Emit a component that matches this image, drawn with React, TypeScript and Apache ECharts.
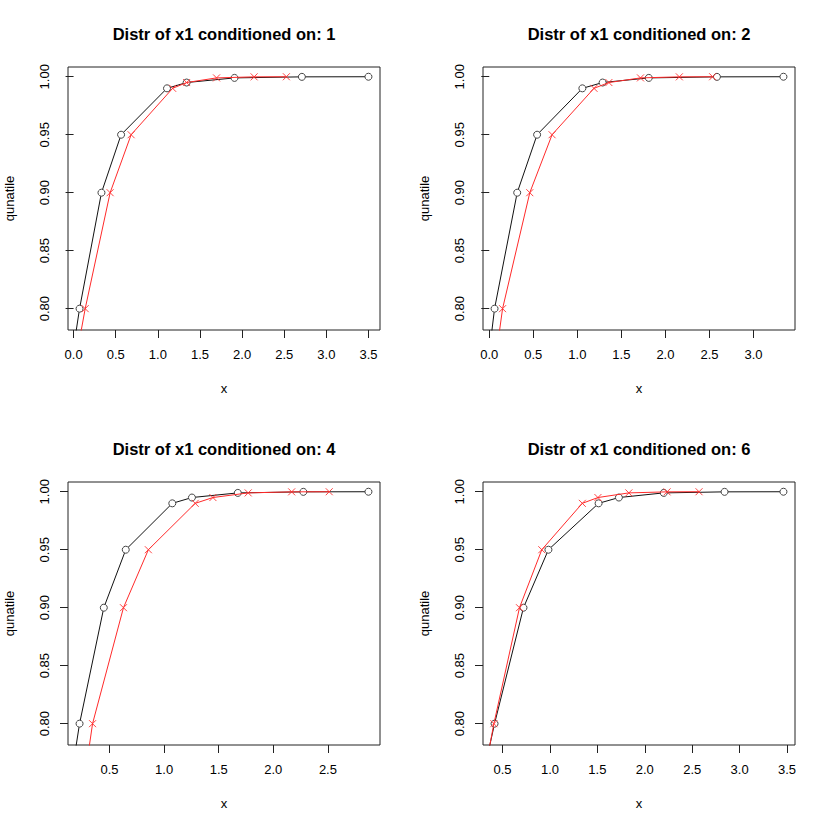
import React, { useEffect, useRef } from 'react';
import * as echarts from 'echarts';

// quantile levels (first level lies below the visible range)
const quantileLevels = [0.75, 0.8, 0.9, 0.95, 0.99, 0.995, 0.999, 0.9999, 1.0];
const conditions = ['1', '2', '4', '6'];

// x values (black circles / red crosses) per conditioning value
const blackX1 = [-0.034, 0.071, 0.331, 0.564, 1.109, 1.342, 1.91, 2.71, 3.5];
const redX1 = [0.012, 0.138, 0.434, 0.683, 1.176, 1.342, 1.697, 2.143, 2.526];
const blackX2 = [-0.02, 0.06, 0.317, 0.543, 1.057, 1.287, 1.811, 2.585, 3.34];
const redX2 = [0.06, 0.151, 0.46, 0.713, 1.189, 1.358, 1.717, 2.158, 2.536];
const blackX4 = [0.143, 0.226, 0.448, 0.649, 1.075, 1.255, 1.675, 2.275, 2.871];
const redX4 = [0.268, 0.345, 0.628, 0.856, 1.285, 1.447, 1.77, 2.168, 2.512];
const blackX6 = [0.281, 0.416, 0.721, 0.984, 1.513, 1.727, 2.2, 2.841, 3.462];
const redX6 = [0.293, 0.409, 0.679, 0.914, 1.341, 1.506, 1.832, 2.235, 2.572];

// tick labels
const yTicks = [0.8, 0.85, 0.9, 0.95, 1.0];
const xTicks1 = [0, 0.5, 1, 1.5, 2, 2.5, 3, 3.5];
const xTicks2 = [0, 0.5, 1, 1.5, 2, 2.5, 3];
const xTicks4 = [0.5, 1, 1.5, 2, 2.5];
const xTicks6 = [0.5, 1, 1.5, 2, 2.5, 3, 3.5];

const yMin = 0.7816;
const yMax = 1.0084;

const FONT = 'Liberation Sans, Arial, Helvetica, sans-serif';

function padRange(xs: number[]): [number, number] {
  const v = xs.slice(1);
  const a = Math.min(...v);
  const b = Math.max(...v);
  const e = 0.04 * (b - a);
  return [a - e, b + e];
}

const blacks = [blackX1, blackX2, blackX4, blackX6];
const reds = [redX1, redX2, redX4, redX6];
const xTicksAll = [xTicks1, xTicks2, xTicks4, xTicks6];
const lefts = [68, 483, 68, 483];
const tops = [67, 67, 482, 482];
const GW = 312;
const GH = 263;

function buildOption() {
  const grid: any[] = [];
  const xAxis: any[] = [];
  const yAxis: any[] = [];
  const series: any[] = [];
  const graphic: any[] = [];
  for (let i = 0; i < 4; i++) {
    const [xmin, xmax] = padRange(blacks[i]);
    grid.push({
      left: lefts[i],
      top: tops[i],
      width: GW,
      height: GH,
      show: true,
      borderColor: '#222',
      borderWidth: 1,
      backgroundColor: 'transparent',
    });
    xAxis.push({
      type: 'value',
      gridIndex: i,
      min: xmin,
      max: xmax,
      name: 'x',
      nameLocation: 'middle',
      nameGap: 52,
      nameTextStyle: { color: '#000', fontSize: 13, fontFamily: FONT },
      axisLine: { show: false },
      splitLine: { show: false },
      axisTick: {
        show: true,
        length: 8,
        customValues: xTicksAll[i],
        lineStyle: { color: '#222', width: 1 },
      },
      axisLabel: {
        customValues: xTicksAll[i],
        formatter: (v: number) => v.toFixed(1),
        color: '#000',
        fontSize: 13,
        fontFamily: FONT,
        margin: 18,
      },
    });
    yAxis.push({
      type: 'value',
      gridIndex: i,
      min: yMin,
      max: yMax,
      name: 'qunatile',
      nameLocation: 'middle',
      nameGap: 52,
      nameTextStyle: { color: '#000', fontSize: 13, fontFamily: FONT },
      axisLine: { show: false },
      splitLine: { show: false },
      axisTick: {
        show: true,
        length: 8,
        customValues: yTicks,
        lineStyle: { color: '#222', width: 1 },
      },
      axisLabel: {
        customValues: yTicks,
        rotate: 90,
        formatter: (v: number) => v.toFixed(2),
        color: '#000',
        fontSize: 13,
        fontFamily: FONT,
        margin: 17,
      },
    });
    series.push({
      type: 'line',
      xAxisIndex: i,
      yAxisIndex: i,
      clip: true,
      data: blacks[i].map((x, k) => [x, quantileLevels[k]]),
      symbol: 'circle',
      symbolSize: 7,
      lineStyle: { color: '#111', width: 1 },
      itemStyle: { color: '#fff', borderColor: '#444', borderWidth: 1 },
      z: 2,
    });
    series.push({
      type: 'line',
      xAxisIndex: i,
      yAxisIndex: i,
      clip: true,
      data: reds[i].map((x, k) => [x, quantileLevels[k]]),
      symbol: 'path://M0,0L10,10M10,0L0,10',
      symbolSize: 7,
      lineStyle: { color: '#ff2a2a', width: 1 },
      itemStyle: { color: '#ff3030', borderColor: '#ff3030', borderWidth: 0.9 },
      z: 3,
    });
    graphic.push({
      type: 'text',
      x: lefts[i] + GW / 2,
      y: tops[i] - 33,
      style: {
        text: 'Distr of x1 conditioned on: ' + conditions[i],
        x: 0,
        y: 0,
        align: 'center',
        verticalAlign: 'middle',
        font: 'bold 16.5px ' + FONT,
        fill: '#000',
      },
    });
  }
  return {
    animation: false,
    backgroundColor: '#fff',
    grid,
    xAxis,
    yAxis,
    series,
    graphic,
  };
}

export default function App() {
  const ref = useRef<HTMLDivElement>(null);
  useEffect(() => {
    if (!ref.current) return;
    const chart = echarts.init(ref.current, null, { renderer: 'svg' });
    chart.setOption(buildOption() as any);
    return () => chart.dispose();
  }, []);
  return (
    <div
      ref={ref}
      style={{ position: 'fixed', left: 0, top: 0, width: 830, height: 830, background: '#fff' }}
    />
  );
}
